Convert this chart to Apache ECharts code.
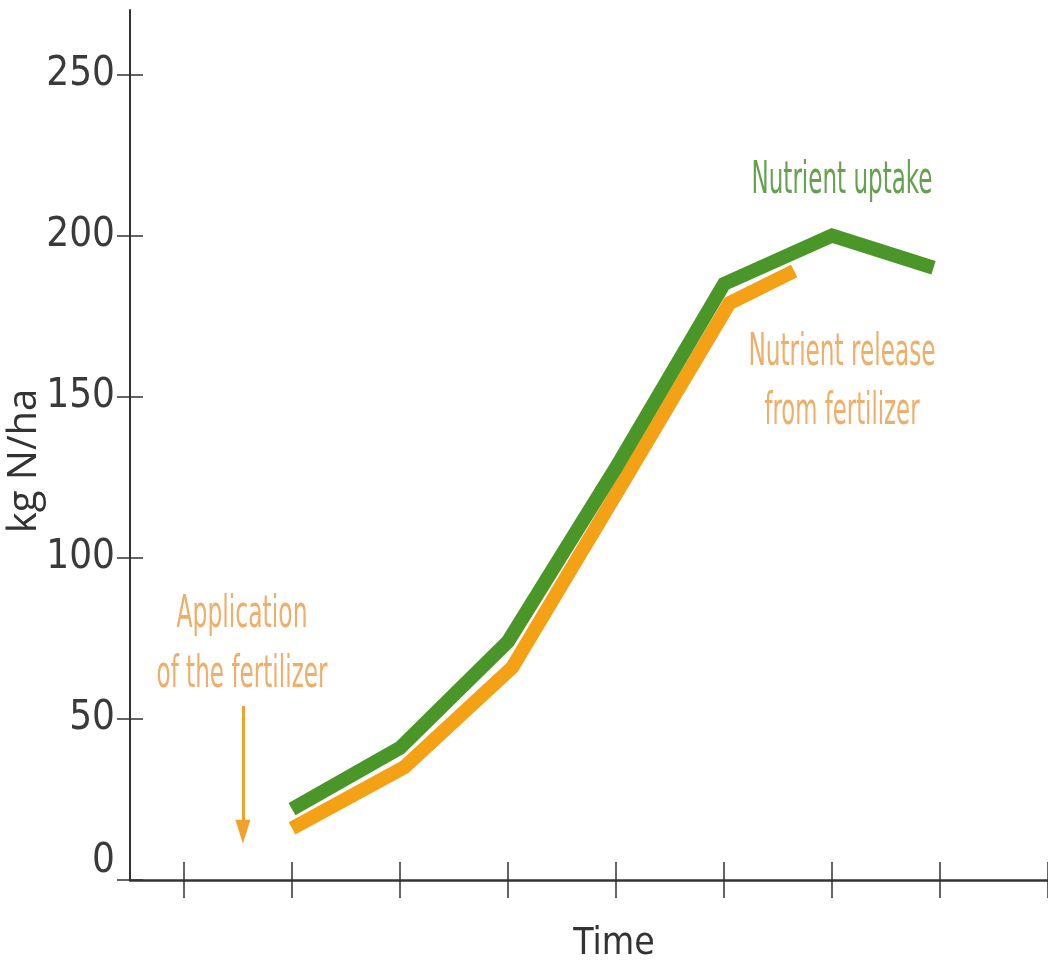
<!DOCTYPE html>
<html><head><meta charset="utf-8">
<script src="https://cdn.jsdelivr.net/npm/echarts@6/dist/echarts.min.js"></script>
<style>html,body{margin:0;padding:0;background:#fff}#c{width:1048px;height:967px}</style>
</head><body><div id="c"></div>
<script>
// ---- data ----
const yTicks = [0, 50, 100, 150, 200, 250];
const xTicks = [0, 1, 2, 3, 4, 5, 6, 7, 8];
const uptakeX = [1, 2, 3, 4, 5, 6, 6.94];
const uptakeY = [22, 41, 74, 128, 185, 200, 190];
const releaseX = [1, 2.04, 3.04, 4.04, 5.05, 5.65];
const releaseY = [16, 35, 66, 122, 179, 189];
const arrowX = [0.545, 0.545];
const arrowY = [54, 15];
const yName = 'kg N/ha';
const xName = 'Time';
const noteTexts = ['Nutrient uptake', 'Nutrient release', 'from fertilizer', 'Application', 'of the fertilizer'];

// ---- styles ----
const FONT = "'Liberation Sans Narrow', 'DejaVu Sans Condensed', 'Roboto Condensed', 'Liberation Sans', sans-serif";
const GREEN = '#4a9628', ORANGE = '#f5a116';
const GREEN_TXT = '#67a150', ORANGE_TXT = '#efae6a';
const AXIS = '#333';

const ctx = document.createElement('canvas').getContext('2d');
function fitScale(text, size, w) { ctx.font = size + 'px ' + FONT; return w / ctx.measureText(text).width; }
const notePlace = [
  { x: 842, y: 182, w: 181, c: GREEN_TXT },
  { x: 842, y: 354, w: 187, c: ORANGE_TXT },
  { x: 842, y: 413, w: 155, c: ORANGE_TXT },
  { x: 242, y: 616, w: 131, c: ORANGE_TXT },
  { x: 242, y: 676, w: 171, c: ORANGE_TXT }
];
const NOTE_SIZE = 44;
const graphic = noteTexts.map((t, i) => ({
  type: 'text', x: notePlace[i].x, y: notePlace[i].y,
  scaleX: fitScale(t, NOTE_SIZE, notePlace[i].w), scaleY: 1,
  silent: true,
  style: { text: t, x: 0, y: 0, fontSize: NOTE_SIZE, fontFamily: FONT, fill: notePlace[i].c, align: 'center', verticalAlign: 'middle' }
}));

const chart = echarts.init(document.getElementById('c'), null, { renderer: 'canvas' });
const baseX = { type: 'value', min: -0.5, max: 8, gridIndex: 0, splitLine: { show: false } };
const baseY = { type: 'value', min: 0, max: 270, gridIndex: 0, splitLine: { show: false } };
chart.setOption({
  animation: false,
  backgroundColor: '#fff',
  grid: { left: 130, right: 0, top: 10, bottom: 87, containLabel: false, outerBoundsMode: 'none' },
  xAxis: [
    Object.assign({}, baseX, {
      position: 'bottom',
      axisLine: { show: true, onZero: false, lineStyle: { color: AXIS, width: 2.5 } },
      axisTick: { show: true, inside: false, length: 18, customValues: xTicks, lineStyle: { color: AXIS, width: 1.5 } },
      axisLabel: { show: false },
      name: xName, nameLocation: 'middle', nameGap: 46, nameMoveOverlap: false,
      nameTextStyle: { fontFamily: FONT, fontSize: 37, color: '#333', padding: [0, 0, 0, 50] }
    }),
    Object.assign({}, baseX, {
      position: 'bottom',
      axisLine: { show: false, onZero: false },
      axisTick: { show: true, inside: true, length: 18, customValues: xTicks, lineStyle: { color: AXIS, width: 1.5 } },
      axisLabel: { show: false }
    })
  ],
  yAxis: [
    Object.assign({}, baseY, {
      position: 'left',
      axisLine: { show: true, onZero: false, lineStyle: { color: AXIS, width: 2 } },
      axisTick: { show: true, inside: false, length: 13, customValues: yTicks, lineStyle: { color: AXIS, width: 1.5 } },
      axisLabel: {
        show: true, customValues: yTicks, margin: 15, fontFamily: FONT, fontSize: 40, color: '#3a3a3a',
        formatter: v => v === 0 ? '{z|0}' : String(v),
        rich: { z: { fontFamily: FONT, fontSize: 40, color: '#3a3a3a', padding: [0, 0, 36, 0] } }
      },
      name: yName, nameLocation: 'middle', nameGap: 85, nameRotate: 90, nameMoveOverlap: false,
      nameTextStyle: { fontFamily: "'Open Sans', 'Noto Sans', sans-serif", fontSize: 40, color: '#333', padding: [0, 32, 0, 0] }
    }),
    Object.assign({}, baseY, {
      position: 'left',
      axisLine: { show: false, onZero: false },
      axisTick: { show: true, inside: true, length: 13, customValues: yTicks, lineStyle: { color: AXIS, width: 1.5 } },
      axisLabel: { show: false }
    })
  ],
  series: [
    {
      name: 'Nutrient release from fertilizer', type: 'line', xAxisIndex: 0, yAxisIndex: 0,
      data: releaseX.map((x, i) => [x, releaseY[i]]),
      symbol: 'none', silent: true, z: 2,
      lineStyle: { color: ORANGE, width: 14, cap: 'butt', join: 'miter' },
      markLine: {
        silent: true, symbol: ['none', 'triangle'], symbolSize: [15, 24],
        label: { show: false },
        lineStyle: { color: '#f0a22e', width: 3, type: 'solid' },
        data: [[{ coord: [arrowX[0], arrowY[0]] }, { coord: [arrowX[1], arrowY[1]] }]]
      }
    },
    {
      name: 'Nutrient uptake', type: 'line', xAxisIndex: 0, yAxisIndex: 0,
      data: uptakeX.map((x, i) => [x, uptakeY[i]]),
      symbol: 'none', silent: true, z: 3,
      lineStyle: { color: GREEN, width: 14, cap: 'butt', join: 'miter' }
    }
  ],
  graphic: graphic
});
</script>
</body></html>
